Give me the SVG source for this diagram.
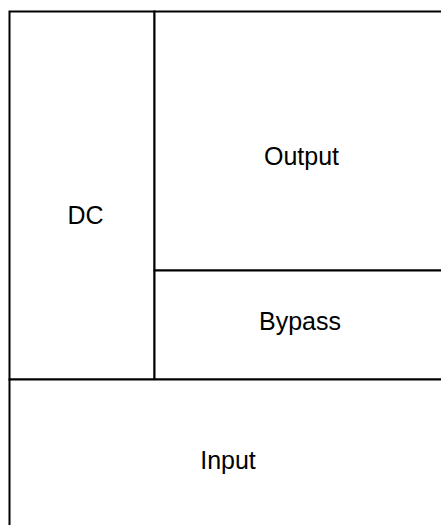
<svg xmlns="http://www.w3.org/2000/svg" width="441" height="525" viewBox="0 0 441 525">
<style>
.box{fill:#fff;stroke:#000;stroke-width:2}
.lbl{font-family:"Liberation Sans",Arial,sans-serif;font-size:25px;fill:#000;text-anchor:middle}
</style>
<rect width="441" height="525" fill="#fff"/>
<g id="dc"><rect class="box" x="9.5" y="11.5" width="145" height="368"/><text class="lbl" x="85.5" y="224">DC</text></g>
<g id="output"><rect class="box" x="154.5" y="11.5" width="293" height="259"/><text class="lbl" x="301.5" y="165">Output</text></g>
<g id="bypass"><rect class="box" x="154.5" y="270.5" width="293" height="109"/><text class="lbl" x="300" y="330">Bypass</text></g>
<g id="input"><rect class="box" x="9.5" y="379.5" width="438" height="160"/><text class="lbl" x="228" y="469">Input</text></g>
<g id="connectors"/>
</svg>
